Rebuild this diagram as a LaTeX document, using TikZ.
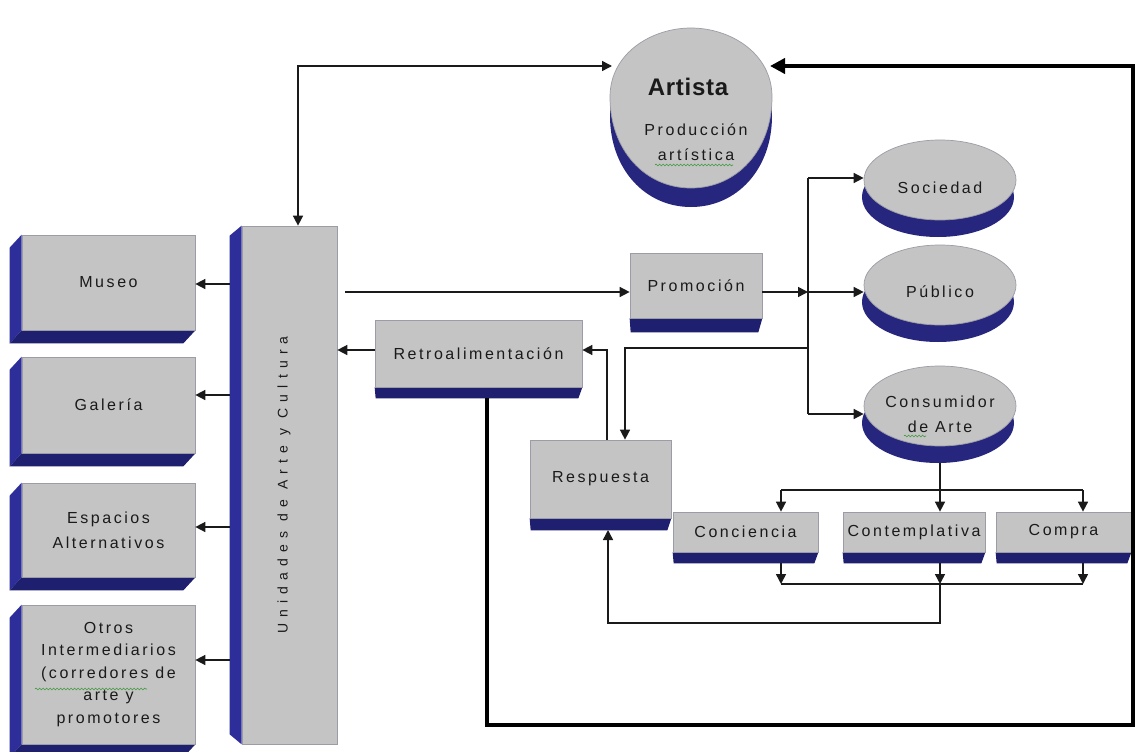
\documentclass[tikz,border=0pt]{standalone}
\usepackage{fontspec}
\setmainfont{Liberation Sans}[LetterSpace=16]
\newfontfamily\titlefont{Liberation Sans}[LetterSpace=3]
\newfontfamily\unifont{Liberation Sans}[LetterSpace=44]
\usetikzlibrary{arrows.meta,calc,decorations.pathmorphing,shapes.geometric}
\pgfdeclarelayer{bg}
\pgfsetlayers{bg,main}
\definecolor{face}{HTML}{C4C4C4}
\definecolor{sideblue}{HTML}{2E2E9A}
\definecolor{botblue}{HTML}{1F1F70}
\definecolor{ellblue}{HTML}{26267E}
\definecolor{edge}{HTML}{9C9CA6}
\definecolor{ink}{HTML}{1A1A1A}
\definecolor{squig}{HTML}{3C9A3C}
\newcommand\extLeft[1]{%
  \fill[sideblue] (#1.north west) -- ++(-12,13) -- ($(#1.south west)+(-12,13)$) -- (#1.south west) -- cycle;
  \fill[botblue] (#1.south west) -- ($(#1.south west)+(-12,13)$) -- ($(#1.south east)+(-12,13)$) -- (#1.south east) -- cycle;}
\newcommand\extBottom[2]{%
  \fill[botblue] (#1.south west) -- ($(#1.south west)+(1,#2)$) -- ($(#1.south east)+(-4,#2)$) -- (#1.south east) -- cycle;}
\begin{document}
\begin{tikzpicture}[x=1pt,y=-1pt,
  facebox/.style={draw=edge,line width=0.7pt,fill=face,inner sep=0pt,align=center,text=ink,font=\fontsize{16}{22.5}\selectfont},
  ellface/.style={ellipse,draw=edge,line width=0.7pt,fill=face,minimum width=152pt,minimum height=80pt,inner sep=0pt},
  txt/.style={text=ink,align=center,inner sep=0pt,font=\fontsize{16}{25}\selectfont},
  ln/.style={draw=ink,line width=1.5pt},
  arr/.style={draw=ink,line width=1.5pt,-{Triangle[length=10pt,width=10pt]}},
  thickarr/.style={draw=black,line width=4pt,-{Triangle[length=15pt,width=15pt]}},
  squiggle/.style={draw=squig,line width=0.6pt,decorate,decoration={snake,amplitude=0.9pt,segment length=3.5pt}}]
\useasboundingbox (0,0) rectangle (1136,752);

% ---- Unidades
\node[facebox,minimum width=95pt,minimum height=518pt] (uni) at (289.5,485) {};
\node[rotate=90,text=ink,inner sep=0pt,font=\unifont\fontsize{14}{16}\selectfont] (uniT) at (284,485) {Unidades de Arte y Cultura};

% ---- left boxes
\node[facebox,minimum width=173pt,minimum height=95pt] (museo) at (108.5,282.5) {Museo};
\node[facebox,minimum width=173pt,minimum height=96pt] (gal) at (108.5,405) {Galería};
\node[facebox,minimum width=173pt,minimum height=94pt,font=\fontsize{16}{25}\selectfont] (esp) at (108.5,530) {Espacios\\Alternativos};
\node[facebox,minimum width=173pt,minimum height=139pt] (otros) at (108.5,674.5) {Otros\\Intermediarios\\(corredores de\\arte y\\promotores};

% ---- middle boxes
\node[facebox,minimum width=132pt,minimum height=65pt] (promo) at (696,285.5) {Promoción};
\node[facebox,minimum width=207pt,minimum height=67pt] (retro) at (478.5,353.5) {Retroalimentación};
\node[facebox,minimum width=141pt,minimum height=78pt] (resp) at (600.5,479) {Respuesta};
\node[facebox,minimum width=145pt,minimum height=40pt] (conc) at (745.5,532) {Conciencia};
\node[facebox,minimum width=142pt,minimum height=40pt] (cont) at (914,532) {Contemplativa};
\node[facebox,minimum width=135pt,minimum height=40pt] (comp) at (1063.5,532) {Compra};

% ---- ellipses
\node[ellface] (soc) at (940,180) {};
\node[ellface] (pub) at (940,285) {};
\node[ellface] (cons) at (940,406) {};
\node[txt] (socT) at (940,188) {Sociedad};
\node[txt] (pubT) at (940,292) {Público};
\node[txt] (consT) at (940,414) {Consumidor\\de Arte};

% ---- Artista
\fill[ellblue] (691,47) .. controls (652,47) and (610,72) .. (610,116) .. controls (610,169) and (645,207) .. (691,207) .. controls (737,207) and (772,169) .. (772,116) .. controls (772,72) and (730,47) .. (691,47) -- cycle;
\filldraw[fill=face,draw=edge,line width=0.7pt] (691,28) .. controls (652,28) and (610,53) .. (610,97) .. controls (610,150) and (645,188) .. (691,188) .. controls (737,188) and (772,150) .. (772,97) .. controls (772,53) and (730,28) .. (691,28) -- cycle;
\node[text=ink,inner sep=0pt,font=\titlefont\bfseries\fontsize{24}{28}\selectfont] (artT) at (688,87) {Artista};
\node[txt] (prodT) at (696,142) {Producción\\artística};

% ---- background and extrusions
\begin{pgfonlayer}{bg}
  \fill[white] (0,0) rectangle (1136,752);
  \fill[sideblue] (uni.north west) -- ++(-12,10) -- ($(uni.south west)+(-12,-10)$) -- (uni.south west) -- cycle;
  \extLeft{museo}\extLeft{gal}\extLeft{esp}\extLeft{otros}
  \extBottom{promo}{14}
  \extBottom{retro}{11}
  \extBottom{resp}{12}
  \extBottom{conc}{11}\extBottom{cont}{11}\extBottom{comp}{11}
  \foreach \e in {soc,pub,cons}{\fill[ellblue] ($(\e.center)+(-2,17)$) ellipse [x radius=76pt,y radius=40pt];}
\end{pgfonlayer}

% ---- spell-check squiggles
\draw[squiggle] (655,165) -- (733,165);
\draw[squiggle] (35,689) -- (147,689);
\draw[squiggle] (904,436) -- (926,436);

% ---- connectors
\coordinate (ua) at (298,66);
\coordinate (artW) at (612,66);
\coordinate (artE) at (770,66);
\draw[ln,{Triangle[length=10pt,width=10pt]}-{Triangle[length=10pt,width=10pt]}] (uni.north -| ua) -- (ua) -- (artW);

\coordinate (uw1) at (230,284);
\coordinate (uw2) at (230,395);
\coordinate (uw3) at (230,527);
\coordinate (uw4) at (230,660);
\draw[arr] (uw1) -- (museo.east |- uw1);
\draw[arr] (uw2) -- (gal.east |- uw2);
\draw[arr] (uw3) -- (esp.east |- uw3);
\draw[arr] (uw4) -- (otros.east |- uw4);

\coordinate (up) at (345,292);
\draw[arr] (up) -- (promo.west |- up);
\coordinate (jP) at (808,292);
\coordinate (jS) at (808,178);
\coordinate (jC) at (808,414);
\coordinate (jR) at (808,348);
\coordinate (rq) at (625,348);
\draw[arr] (promo.east |- jP) -- (jP);
\draw[ln] (jS) -- (jC);
\draw[arr] (jP) -- (pub.west |- jP);
\draw[arr] (jS) -- (soc.west |- jS);
\draw[arr] (jC) -- (cons.west |- jC);
\draw[arr] (jR) -- (rq) -- (resp.north -| rq);

\coordinate (rl) at (375,350);
\draw[arr] (retro.west |- rl) -- (uni.east |- rl);
\coordinate (ru) at (607,350);
\draw[arr] (resp.north -| ru) -- (ru) -- (retro.east |- ru);

\coordinate (t0) at (487,398);
\coordinate (t1) at (487,725);
\coordinate (t2) at (1133,725);
\coordinate (t3) at (1133,66);
\draw[thickarr] (t0) -- (t1) -- (t2) -- (t3) -- (artE);

\coordinate (c0) at (940,463);
\coordinate (hL) at (781,490);
\coordinate (hR) at (1083,490);
\draw[arr] (c0) -- (cont.north -| c0);
\draw[ln] (hL) -- (hR);
\draw[arr] (hL) -- (conc.north -| hL);
\draw[arr] (hR) -- (comp.north -| hR);

\coordinate (sL) at (781,563);
\coordinate (sM) at (940,563);
\coordinate (sR) at (1083,563);
\coordinate (bL) at (781,584);
\coordinate (bM) at (940,584);
\coordinate (bR) at (1083,584);
\draw[arr] (sL) -- (bL);
\draw[arr] (sM) -- (bM);
\draw[arr] (sR) -- (bR);
\draw[ln] (bL) -- (bR);
\coordinate (f1) at (940,623);
\coordinate (f2) at (608,623);
\coordinate (rb) at (608,530);
\draw[arr] (bM) -- (f1) -- (f2) -- (rb);
\end{tikzpicture}
\end{document}
